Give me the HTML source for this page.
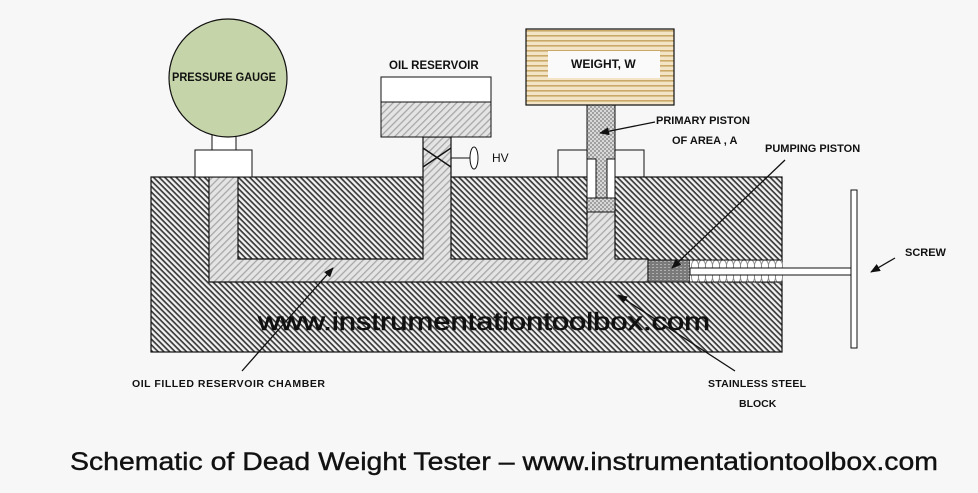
<!DOCTYPE html>
<html><head><meta charset="utf-8"><style>
html,body{margin:0;padding:0;background:#f7f7f7;}
svg{display:block;}
text{font-family:"Liberation Sans",sans-serif;fill:#111;}
</style></head><body>
<svg width="978" height="493" viewBox="0 0 978 493" xmlns="http://www.w3.org/2000/svg">
<defs>
<pattern id="dark" width="4" height="4" patternUnits="userSpaceOnUse" patternTransform="rotate(45)">
<rect width="4" height="4" fill="#f2f2f2"/><rect width="4" height="1.7" fill="#3a3a3a"/></pattern>
<pattern id="light" width="5" height="5" patternUnits="userSpaceOnUse" patternTransform="rotate(-45)">
<rect width="5" height="5" fill="#e4e4e4"/><rect width="5" height="1.3" fill="#a8a8a8"/></pattern>
<pattern id="check" width="4" height="4" patternUnits="userSpaceOnUse">
<rect width="4" height="4" fill="#d8d8d8"/><rect width="2" height="2" fill="#a0a0a0"/><rect x="2" y="2" width="2" height="2" fill="#a0a0a0"/></pattern>
<pattern id="dots" width="4" height="3" patternUnits="userSpaceOnUse">
<rect width="4" height="3" fill="#7a7a7a"/><rect width="2" height="1" fill="#b0b0b0"/></pattern>
<pattern id="wood" width="6" height="5" patternUnits="userSpaceOnUse">
<rect width="6" height="5" fill="#f2e4c4"/><rect width="6" height="1.6" fill="#c9a868"/></pattern>
<marker id="ah" markerWidth="10" markerHeight="8" refX="9" refY="4" orient="auto" markerUnits="userSpaceOnUse">
<path d="M0,0 L10,4 L0,8 z" fill="#111"/></marker>
</defs>

<rect x="151" y="177" width="631" height="175" fill="url(#dark)" stroke="#111" stroke-width="1.2"/>
<path d="M209,177 H238 V259 H423 V137 H451 V259 H587 V198 H615 V259 H648 V282 H209 Z" fill="url(#light)" stroke="#111" stroke-width="1.2"/>
<rect x="648" y="260" width="42" height="22" fill="url(#dots)" stroke="#111"/>
<rect x="690" y="260" width="92" height="22" fill="#fff"/>
<g fill="#fff" stroke="#888" stroke-width="0.9">
<ellipse cx="695" cy="266" rx="3.5" ry="6"/><ellipse cx="702" cy="266" rx="3.5" ry="6"/><ellipse cx="709" cy="266" rx="3.5" ry="6"/><ellipse cx="716" cy="266" rx="3.5" ry="6"/><ellipse cx="723" cy="266" rx="3.5" ry="6"/><ellipse cx="730" cy="266" rx="3.5" ry="6"/><ellipse cx="737" cy="266" rx="3.5" ry="6"/><ellipse cx="744" cy="266" rx="3.5" ry="6"/><ellipse cx="751" cy="266" rx="3.5" ry="6"/><ellipse cx="758" cy="266" rx="3.5" ry="6"/><ellipse cx="765" cy="266" rx="3.5" ry="6"/><ellipse cx="772" cy="266" rx="3.5" ry="6"/><ellipse cx="779" cy="266" rx="3.5" ry="6"/>
<ellipse cx="695" cy="277" rx="3.5" ry="6"/><ellipse cx="702" cy="277" rx="3.5" ry="6"/><ellipse cx="709" cy="277" rx="3.5" ry="6"/><ellipse cx="716" cy="277" rx="3.5" ry="6"/><ellipse cx="723" cy="277" rx="3.5" ry="6"/><ellipse cx="730" cy="277" rx="3.5" ry="6"/><ellipse cx="737" cy="277" rx="3.5" ry="6"/><ellipse cx="744" cy="277" rx="3.5" ry="6"/><ellipse cx="751" cy="277" rx="3.5" ry="6"/><ellipse cx="758" cy="277" rx="3.5" ry="6"/><ellipse cx="765" cy="277" rx="3.5" ry="6"/><ellipse cx="772" cy="277" rx="3.5" ry="6"/><ellipse cx="779" cy="277" rx="3.5" ry="6"/>
</g>
<line x1="690" y1="260" x2="782" y2="260" stroke="#111"/><line x1="690" y1="282" x2="782" y2="282" stroke="#111"/>
<rect x="690" y="268" width="162" height="7" fill="#fff" stroke="#111"/>
<rect x="851" y="190" width="6" height="158" fill="#fff" stroke="#111"/>

<rect x="195" y="150" width="57" height="27" fill="#fff" stroke="#111"/>
<rect x="212" y="135" width="24" height="15" fill="#fff" stroke="#111"/>
<circle cx="228" cy="78" r="59" fill="#c6d4a9" stroke="#111" stroke-width="1.2"/>
<text x="172" y="81" font-size="12" font-weight="bold" textLength="104" lengthAdjust="spacingAndGlyphs">PRESSURE GAUGE</text>

<rect x="381" y="77" width="110" height="60" fill="#fff" stroke="#111"/>
<rect x="381" y="102" width="110" height="35" fill="url(#light)" stroke="#111"/>
<path d="M423,148 L451,167 M451,148 L423,167" stroke="#111" stroke-width="1.4"/>
<line x1="451" y1="158" x2="470" y2="158" stroke="#111"/>
<ellipse cx="474" cy="158" rx="4" ry="11" fill="#fff" stroke="#111"/>
<text x="492" y="162" font-size="12">HV</text>
<text x="389" y="69" font-size="11.5" font-weight="bold">OIL RESERVOIR</text>

<path d="M558,177 V150 H587 M615,150 H644 V177" fill="none" stroke="#111"/>
<rect x="587" y="159" width="28" height="39" fill="#fff" stroke="#111"/>
<path d="M587,105 H615 V159 H607 V198 H596 V159 H587 Z" fill="url(#check)" stroke="#111"/>
<rect x="587" y="198" width="28" height="14" fill="url(#check)" stroke="#111"/>
<rect x="526" y="29" width="148" height="76" fill="url(#wood)" stroke="#111" stroke-width="1.2"/>
<rect x="548" y="51" width="112" height="27" fill="#fafafa"/>
<text x="571" y="68" font-size="12" font-weight="bold">WEIGHT, W</text>

<text x="656" y="124" font-size="11" font-weight="bold">PRIMARY PISTON</text>
<text x="672" y="144" font-size="11" font-weight="bold">OF AREA , A</text>
<text x="765" y="152" font-size="11" font-weight="bold">PUMPING PISTON</text>
<text x="905" y="256" font-size="11" font-weight="bold">SCREW</text>
<text x="132" y="387" font-size="10.5" font-weight="bold" textLength="193">OIL FILLED RESERVOIR CHAMBER</text>
<text x="708" y="387" font-size="10.5" font-weight="bold" textLength="98">STAINLESS STEEL</text>
<text x="739" y="407" font-size="10.5" font-weight="bold">BLOCK</text>

<g stroke="#111" stroke-width="1.3" marker-end="url(#ah)">
<line x1="655" y1="122" x2="600" y2="133"/>
<line x1="785" y1="160" x2="672" y2="268"/>
<line x1="895" y1="258" x2="871" y2="272"/>
<line x1="242" y1="371" x2="333" y2="268"/>
<line x1="735" y1="371" x2="618" y2="295"/>
</g>

<text x="258" y="330" font-size="25" textLength="452" lengthAdjust="spacingAndGlyphs" style="fill:#111;stroke:#111;stroke-width:0.6">www.instrumentationtoolbox.com</text>
<text x="70" y="470" font-size="25" textLength="868" lengthAdjust="spacingAndGlyphs" style="stroke:#111;stroke-width:0.4">Schematic of Dead Weight Tester – www.instrumentationtoolbox.com</text>
</svg>
</body></html>
